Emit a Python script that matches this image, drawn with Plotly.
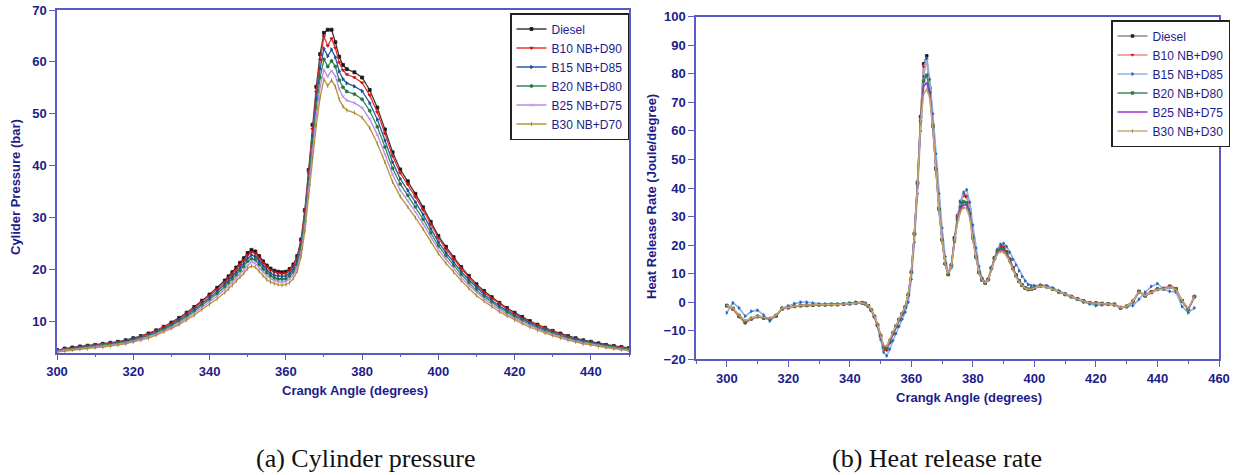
import plotly.graph_objects as go

# ---------------- data: (a) cylinder pressure ----------------
crank_a = (list(range(300, 343, 2)) + list(range(344, 377)) + list(range(378, 451, 2)))

p_diesel = [4.5,4.8,5.0,5.2,5.35,5.5,5.7,5.9,6.1,6.4,6.8,7.2,7.7,8.3,9.0,9.8,10.7,11.7,12.8,14.0,15.2,16.5,
            17.9,18.7,19.5,20.4,21.3,22.2,23.2,23.8,23.5,22.6,21.6,20.8,20.2,19.8,19.6,19.5,19.6,20.1,21.0,22.6,25.8,31.5,39.2,47.9,55.2,61.5,65.6,66.2,66.2,63.8,61.0,59.4,58.6,
            58.0,57.0,54.6,51.2,47.0,42.6,39.3,37.0,34.6,32.0,29.2,26.5,24.4,22.4,20.5,18.8,17.2,15.9,14.7,13.6,12.6,11.7,10.9,10.1,9.4,8.8,8.2,7.7,7.2,6.8,6.4,6.1,5.8,5.5,5.3,5.1,4.9]
p_b10 = [4.5,4.7,4.9,5.1,5.3,5.4,5.6,5.8,6.0,6.3,6.7,7.1,7.6,8.2,8.9,9.7,10.5,11.5,12.6,13.8,15.0,16.2,
         17.6,18.4,19.2,20.1,20.9,21.8,22.8,23.4,23.1,22.2,21.2,20.5,19.9,19.5,19.3,19.2,19.3,19.8,20.7,22.2,25.4,31.0,38.5,47.1,54.2,60.4,64.9,63.1,64.5,62.7,59.9,58.4,57.6,
         57.0,56.0,53.6,50.3,46.2,41.9,38.6,36.4,34.0,31.5,28.7,26.1,24.0,22.0,20.2,18.5,16.9,15.6,14.5,13.4,12.4,11.5,10.7,9.9,9.3,8.7,8.1,7.6,7.1,6.7,6.3,6.0,5.7,5.4,5.2,5.0,4.8]
p_b15 = [4.4,4.6,4.8,5.0,5.2,5.3,5.5,5.7,5.9,6.2,6.6,6.9,7.4,8.0,8.7,9.4,10.3,11.2,12.3,13.4,14.6,15.8,
         17.1,17.9,18.7,19.5,20.4,21.2,22.2,22.8,22.5,21.6,20.7,19.9,19.3,18.9,18.8,18.7,18.8,19.2,20.1,21.6,24.7,30.1,37.4,45.7,52.7,58.7,62.6,61.1,62.4,60.9,58.2,56.7,55.9,
         55.3,54.4,52.1,48.9,44.9,40.7,37.5,35.3,33.0,30.6,27.9,25.3,23.3,21.4,19.6,18.0,16.5,15.2,14.1,13.0,12.1,11.2,10.5,9.7,9.0,8.5,7.9,7.4,6.9,6.6,6.2,5.9,5.6,5.3,5.1,4.9,4.7]
p_b20 = [4.3,4.6,4.7,4.9,5.1,5.2,5.4,5.6,5.8,6.0,6.4,6.8,7.2,7.8,8.4,9.2,10.0,10.9,12.0,13.1,14.2,15.4,
         16.7,17.4,18.2,19.0,19.8,20.6,21.6,22.1,21.9,21.0,20.1,19.4,18.8,18.4,18.2,18.2,18.2,18.7,19.5,21.0,24.0,29.3,36.4,44.4,51.2,57.0,60.5,59.1,60.2,59.1,56.5,55.1,54.3,
         53.8,52.8,50.6,47.5,43.6,39.5,36.5,34.3,32.1,29.7,27.1,24.6,22.7,20.8,19.1,17.5,16.0,14.8,13.7,12.7,11.8,10.9,10.2,9.5,8.8,8.3,7.7,7.2,6.8,6.4,6.0,5.8,5.5,5.2,5.0,4.8,4.6]
p_b25 = [4.2,4.5,4.6,4.8,4.9,5.1,5.3,5.4,5.6,5.9,6.2,6.6,7.1,7.6,8.2,8.9,9.7,10.6,11.6,12.7,13.8,14.9,
         16.2,16.9,17.6,18.4,19.2,20.0,20.9,21.5,21.2,20.4,19.5,18.8,18.2,17.9,17.7,17.6,17.7,18.2,19.0,20.4,23.3,28.4,35.2,43.0,49.6,55.2,58.5,57.2,58.3,57.3,54.8,53.3,52.6,
         52.1,51.2,49.0,46.0,42.2,38.3,35.3,33.3,31.1,28.8,26.3,23.9,22.0,20.2,18.5,17.0,15.6,14.4,13.3,12.3,11.4,10.6,9.9,9.2,8.6,8.0,7.5,7.1,6.6,6.2,5.9,5.6,5.4,5.1,4.9,4.7,4.5]
p_b30 = [4.1,4.3,4.5,4.7,4.8,5.0,5.1,5.3,5.5,5.7,6.1,6.4,6.8,7.4,8.0,8.7,9.4,10.3,11.2,12.3,13.3,14.4,
         15.6,16.3,17.0,17.8,18.6,19.3,20.2,20.7,20.5,19.7,18.8,18.1,17.6,17.3,17.1,17.0,17.1,17.5,18.3,19.7,22.5,27.4,34.0,41.5,47.8,53.2,56.7,55.4,56.5,55.2,52.8,51.4,50.7,
         50.2,49.3,47.3,44.3,40.7,36.9,34.1,32.1,30.0,27.8,25.4,23.1,21.2,19.5,17.9,16.4,15.0,13.9,12.9,11.9,11.1,10.3,9.6,8.9,8.3,7.8,7.3,6.8,6.4,6.1,5.7,5.5,5.2,5.0,4.8,4.6,4.4]

# ---------------- data: (b) heat release rate ----------------
crank_b = (list(range(300, 345, 2)) + list(range(345, 401)) + list(range(402, 453, 2)))

h_diesel = [-1.2,-2.3,-4.9,-7.0,-5.8,-5.0,-5.5,-5.9,-4.8,-2.3,-1.9,-1.5,-1.2,-1.1,-1.0,-0.9,-0.9,-0.8,-0.8,-0.7,-0.5,-0.2,-0.2,
            -0.5,-1.3,-2.8,-5.0,-8.0,-11.8,-16.0,-16.2,-13.8,-11.0,-8.5,-6.2,-4.2,-1.8,2.5,10.5,24.0,42.0,65.0,83.5,86.3,75.0,62.0,47.0,33.0,22.0,13.5,9.7,13.0,22.5,30.0,35.0,37.5,37.0,32.0,23.0,16.0,10.5,7.8,6.7,8.0,12.0,15.5,18.0,19.6,19.2,17.5,15.0,12.0,9.5,7.5,6.0,5.0,4.5,4.6,5.0,
            5.8,5.5,4.6,3.6,2.8,2.0,1.2,0.4,-0.2,-0.3,-0.5,-0.6,-0.8,-2.0,-1.5,0.2,3.8,2.3,3.5,4.6,4.8,5.5,4.5,0.5,-2.4,1.9]
h_b10 = [-1.3,-2.5,-5.2,-7.4,-6.0,-5.1,-5.6,-6.1,-4.9,-2.4,-2.0,-1.5,-1.2,-1.1,-1.0,-0.9,-0.9,-0.8,-0.8,-0.7,-0.5,-0.2,-0.3,
         -0.5,-1.4,-3.0,-5.3,-8.4,-12.3,-16.8,-16.9,-14.3,-11.3,-8.7,-6.3,-4.3,-1.9,2.3,10.2,23.5,41.5,64.5,82.5,85.0,74.5,61.5,46.5,32.5,21.5,13.2,9.6,13.0,22.5,30.5,35.5,37.8,37.2,32.5,23.5,16.2,10.6,7.8,6.6,8.0,12.0,15.6,18.2,19.5,19.4,17.8,15.2,12.2,9.6,7.5,6.0,5.0,4.4,4.5,5.0,
         5.9,5.6,4.7,3.7,2.8,2.0,1.2,0.4,-0.2,-0.4,-0.5,-0.7,-0.6,-2.1,-1.6,0.0,3.5,2.6,3.8,4.5,4.9,5.8,4.9,0.3,-2.8,1.7]
h_b15 = [-3.7,-0.2,-2.0,-4.9,-3.2,-2.8,-4.5,-6.6,-4.8,-2.0,-1.3,-0.5,0.0,0.0,-0.3,-0.6,-0.7,-0.8,-0.8,-0.6,-0.3,0.0,-0.2,
         -0.4,-1.2,-2.6,-4.8,-8.2,-13.0,-17.5,-18.8,-16.5,-13.5,-11.0,-8.5,-6.0,-3.5,0.0,8.0,21.0,38.0,60.0,79.0,85.5,78.0,66.0,52.0,38.0,26.0,16.0,10.5,12.0,21.0,29.5,35.0,38.5,39.4,35.0,27.0,19.0,12.5,8.5,7.0,7.8,11.5,15.5,18.5,20.3,20.6,19.5,17.5,15.0,13.0,11.0,9.0,7.5,6.2,5.8,5.8,
         6.0,5.8,5.0,4.0,3.0,2.0,1.0,0.0,-0.6,-1.2,-1.0,-0.8,-1.0,-1.8,-1.6,-1.2,1.0,3.5,5.5,6.5,4.5,3.8,3.6,-1.5,-3.7,-2.0]
h_b20 = [-1.2,-2.2,-4.7,-6.8,-5.7,-5.0,-5.4,-5.8,-4.7,-2.2,-1.8,-1.4,-1.2,-1.1,-1.0,-0.9,-0.9,-0.8,-0.8,-0.7,-0.5,-0.3,-0.2,
         -0.5,-1.3,-2.8,-5.0,-8.0,-11.6,-15.8,-16.0,-13.6,-10.8,-8.4,-6.1,-4.1,-1.7,2.6,10.6,24.0,41.5,63.5,77.5,79.5,73.5,61.5,46.5,32.5,21.8,13.5,9.8,12.8,21.8,29.0,33.5,35.2,34.8,31.0,22.5,15.8,10.4,7.8,6.8,8.0,11.8,15.2,17.6,18.8,18.5,17.0,14.6,11.8,9.3,7.3,5.9,5.0,4.5,4.6,5.0,
         5.7,5.4,4.6,3.6,2.7,1.9,1.1,0.3,-0.2,-0.3,-0.5,-0.6,-0.8,-1.9,-1.4,0.3,3.6,2.2,3.4,4.5,4.7,5.4,4.4,0.4,-2.5,2.0]
h_b25 = [-1.1,-2.2,-4.6,-6.6,-5.6,-4.9,-5.3,-5.7,-4.6,-2.2,-1.8,-1.4,-1.1,-1.0,-1.0,-0.9,-0.9,-0.8,-0.8,-0.7,-0.5,-0.3,-0.2,
         -0.5,-1.2,-2.7,-4.9,-7.8,-11.4,-15.5,-15.7,-13.4,-10.6,-8.3,-6.0,-4.0,-1.6,2.7,10.6,24.0,41.0,63.0,75.5,77.0,72.5,61.0,46.0,32.2,21.6,13.5,9.9,12.6,21.4,28.5,32.6,34.2,33.8,30.2,22.0,15.6,10.3,7.8,6.8,7.9,11.7,15.0,17.3,18.3,18.0,16.6,14.3,11.6,9.2,7.2,5.9,5.0,4.5,4.6,5.0,
         5.6,5.4,4.5,3.5,2.7,1.9,1.1,0.3,-0.2,-0.3,-0.5,-0.6,-0.8,-1.9,-1.4,0.3,3.7,2.2,3.3,4.4,4.6,5.3,4.4,0.5,-2.4,1.9]
h_b30 = [-1.1,-2.1,-4.5,-6.5,-5.5,-4.9,-5.3,-5.6,-4.5,-2.1,-1.8,-1.4,-1.1,-1.0,-0.9,-0.9,-0.8,-0.8,-0.8,-0.7,-0.5,-0.3,-0.2,
         -0.5,-1.2,-2.6,-4.8,-7.6,-11.2,-15.2,-15.4,-13.2,-10.5,-8.2,-5.9,-3.9,-1.5,2.8,10.6,23.8,40.5,62.5,73.0,74.5,71.5,60.5,45.5,32.0,21.5,13.4,10.0,12.4,21.0,28.0,31.8,33.2,32.8,29.4,21.6,15.4,10.2,7.8,6.8,7.8,11.5,14.8,17.0,17.8,17.5,16.2,14.0,11.4,9.0,7.1,5.8,4.9,4.5,4.6,5.0,
         5.6,5.3,4.5,3.5,2.7,1.9,1.1,0.3,-0.2,-0.3,-0.5,-0.6,-0.8,-1.9,-1.4,0.3,3.6,2.3,3.4,4.4,4.6,5.3,4.4,0.6,-2.3,2.0]

names_a = ["Diesel", "B10 NB+D90", "B15 NB+D85", "B20 NB+D80", "B25 NB+D75", "B30 NB+D70"]
names_b = ["Diesel", "B10 NB+D90", "B15 NB+D85", "B20 NB+D80", "B25 NB+D75", "B30 NB+D30"]

# ---------------- styling ----------------
W, H = 1234, 475
FONT = "Arial, Liberation Sans, sans-serif"
NAVY = "#1c1c8a"
AXIS = "#5a5ac4"

style_a = [
    dict(line="#3a3a3a", mk="#1a1a1a", sym="square"),
    dict(line="#e8302c", mk="#d01010", sym="triangle-down"),
    dict(line="#2a5aa8", mk="#1a4a98", sym="triangle-right"),
    dict(line="#2e8b57", mk="#23764a", sym="circle"),
    dict(line="#b98be6", mk="#b98be6", sym="x-thin-open"),
    dict(line="#b8943a", mk="#9a7a2a", sym="line-ns-open"),
]
style_b = [
    dict(line="#8a8a8a", mk="#1a1a1a", sym="square"),
    dict(line="#f08a8a", mk="#d01010", sym="triangle-down"),
    dict(line="#8db0dc", mk="#1f5fbf", sym="triangle-right"),
    dict(line="#3c8c5a", mk="#2a7a48", sym="square"),
    dict(line="#9b30d0", mk=None, sym=None),
    dict(line="#c9aa72", mk="#a08040", sym="line-ns-open"),
]

fig = go.Figure()

series_a = [p_diesel, p_b10, p_b15, p_b20, p_b25, p_b30]
for name, ys, st in zip(names_a, series_a, style_a):
    fig.add_trace(go.Scatter(
        x=crank_a, y=ys, name=name, mode="lines+markers",
        line=dict(color=st["line"], width=1.3),
        marker=dict(symbol=st["sym"], size=3, color=st["mk"],
                    line=dict(color=st["mk"], width=0.8)),
        xaxis="x", yaxis="y", legend="legend"))

series_b = [h_diesel, h_b10, h_b15, h_b20, h_b25, h_b30]
for name, ys, st in zip(names_b, series_b, style_b):
    if st["sym"] is None:
        fig.add_trace(go.Scatter(
            x=crank_b, y=ys, name=name, mode="lines",
            line=dict(color=st["line"], width=1.6),
            xaxis="x2", yaxis="y2", legend="legend2"))
    else:
        fig.add_trace(go.Scatter(
            x=crank_b, y=ys, name=name, mode="lines+markers",
            line=dict(color=st["line"], width=1.6),
            marker=dict(symbol=st["sym"], size=2.6, color=st["mk"],
                        line=dict(color=st["mk"], width=0.8)),
            xaxis="x2", yaxis="y2", legend="legend2"))

tickfont = dict(family=FONT, size=13, color=NAVY, weight="bold")
common = dict(showline=True, linecolor=AXIS, linewidth=1.5, mirror=True,
              ticks="outside", tickcolor=AXIS, tickwidth=1.2, ticklen=6,
              showgrid=False, zeroline=False, tickfont=tickfont)

fig.update_layout(
    width=W, height=H,
    margin=dict(l=0, r=0, t=0, b=0, autoexpand=False),
    paper_bgcolor="white", plot_bgcolor="white",
    xaxis=dict(domain=[57 / W, 629 / W], range=[300, 450], tick0=300, dtick=20,
               minor=dict(ticks="outside", dtick=10, tick0=300, ticklen=3, tickcolor=AXIS),
               anchor="y", **common),
    yaxis=dict(domain=[1 - 352.7 / H, 1 - 10 / H], range=[4, 70], tick0=10, dtick=10,
               anchor="x", **common),
    xaxis2=dict(domain=[696 / W, 1219 / W], range=[290, 460], tick0=300, dtick=20,
                minor=dict(ticks="outside", dtick=10, tick0=290, ticklen=3, tickcolor=AXIS),
                anchor="y2", **common),
    yaxis2=dict(domain=[1 - 359.3 / H, 1 - 16.7 / H], range=[-20, 100], tick0=0, dtick=10,
                anchor="x2", **common),
    legend=dict(x=510 / W, y=1 - 13 / H, xanchor="left", yanchor="top",
                bgcolor="white", bordercolor="#222222", borderwidth=1.5,
                font=dict(family=FONT, size=12, color=NAVY),
                itemwidth=30, tracegroupgap=0),
    legend2=dict(x=1111 / W, y=1 - 20 / H, xanchor="left", yanchor="top",
                 bgcolor="white", bordercolor="#222222", borderwidth=1.5,
                 font=dict(family=FONT, size=12, color=NAVY),
                 itemwidth=30, tracegroupgap=0),
    showlegend=True,
)

title_font = dict(family=FONT, size=13, color=NAVY, weight="bold")
cap_font = dict(family="Liberation Serif, Times New Roman, serif", size=26, color="#111111")


def label(text, x, y, font, angle=0):
    fig.add_annotation(text=text, x=x / W, y=1 - y / H, xref="paper", yref="paper",
                       xanchor="center", yanchor="middle", textangle=angle,
                       showarrow=False, font=font)


label("Cylider Pressure (bar)", 15, 187, title_font, -90)
label("Crangk Angle (degrees)", 355, 390, title_font)
label("Heat Release Rate (Joule/degree)", 651, 197, title_font, -90)
label("Crangk Angle (degrees)", 969, 397, title_font)
label("(a) Cylinder pressure", 365, 458, cap_font)
label("(b) Heat release rate", 937, 458, cap_font)

fig.write_html("out.html",
               post_script="document.body.style.margin='0';document.body.style.overflow='hidden';")
